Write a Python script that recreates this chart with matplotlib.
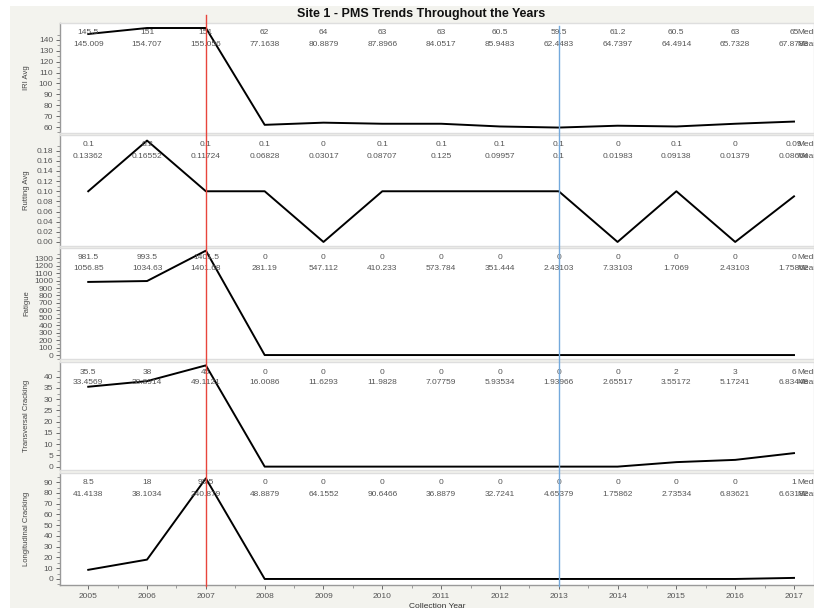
import matplotlib
matplotlib.use('Agg')
import numpy as np
import matplotlib.pyplot as plt
import matplotlib.transforms as mtransforms
from matplotlib.lines import Line2D
from matplotlib.patches import Rectangle
from matplotlib.ticker import FixedLocator, MultipleLocator, FormatStrFormatter

plt.rcParams['font.family'] = ['Liberation Sans', 'DejaVu Sans']

# ---- data (median drives the line, mean is only printed) ----
years = list(range(2005, 2018))

iri_median = [145.5, 151, 151, 62, 64, 63, 63, 60.5, 59.5, 61.2, 60.5, 63, 65]
iri_mean = [145.009, 154.707, 155.056, 77.1638, 80.8879, 87.8966, 84.0517,
            85.9483, 62.4483, 64.7397, 64.4914, 65.7328, 67.8783]

rut_median = [0.1, 0.2, 0.1, 0.1, 0, 0.1, 0.1, 0.1, 0.1, 0, 0.1, 0, 0.09]
rut_mean = [0.13362, 0.16552, 0.11724, 0.06828, 0.03017, 0.08707, 0.125,
            0.09957, 0.1, 0.01983, 0.09138, 0.01379, 0.08664]

fat_median = [981.5, 993.5, 1401.5, 0, 0, 0, 0, 0, 0, 0, 0, 0, 0]
fat_mean = [1056.85, 1034.63, 1401.68, 281.19, 547.112, 410.233, 573.784,
            351.444, 2.43103, 7.33103, 1.7069, 2.43103, 1.75862]

trans_median = [35.5, 38, 45, 0, 0, 0, 0, 0, 0, 0, 2, 3, 6]
trans_mean = [33.4569, 38.8914, 49.1121, 16.0086, 11.6293, 11.9828, 7.07759,
              5.93534, 1.93966, 2.65517, 3.55172, 5.17241, 6.83448]

long_median = [8.5, 18, 93.5, 0, 0, 0, 0, 0, 0, 0, 0, 0, 1]
long_mean = [41.4138, 38.1034, 240.879, 48.8879, 64.1552, 90.6466, 36.8879,
             32.7241, 4.65379, 1.75862, 2.73534, 6.83621, 6.63182]

red_year = 2007
blue_year = 2013

# label, median, mean, ylim, tick start/stop/step, tick format, top px, bottom px
panels = [
    ('IRI Avg', iri_median, iri_mean, (54.5, 155.6), (60, 140, 10), '%d', 23, 133),
    ('Rutting Avg', rut_median, rut_mean, (-0.008, 0.211), (0, 0.18, 0.02), '%.2f', 135, 246),
    ('Fatigue', fat_median, fat_mean, (-53, 1437), (0, 1300, 100), '%d', 248, 359),
    ('Transversal Cracking', trans_median, trans_mean, (-1.5, 46.5), (0, 40, 5), '%d', 362, 470),
    ('Longitudinal Cracking', long_median, long_mean, (-5.6, 98.5), (0, 90, 10), '%d', 473, 585),
]

W, H = 814, 613
fig = plt.figure(figsize=(W / 100, H / 100), dpi=100)
fig.patch.set_facecolor('white')
fig.add_artist(Rectangle((10 / W, 1 - 608 / H), (W - 10) / W, 602 / H,
                         transform=fig.transFigure, facecolor='#f3f3ee',
                         edgecolor='none', zorder=-10))

fig.text(421 / W, 1 - 14 / H, 'Site 1 - PMS Trends Throughout the Years',
         ha='center', va='center', fontsize=9, fontweight='bold', color='#111')

axes = []
for i, (label, med, mean, ylim, tk, fmt, yt, yb) in enumerate(panels):
    ax = fig.add_axes([60 / W, 1 - yb / H, (W - 60) / W, (yb - yt) / H])
    ax.set_facecolor('white')
    ax.plot(years, med, color='black', lw=1.4)
    ax.set_xlim(2004.52, 2017.34)
    ax.set_ylim(*ylim)

    lo, hi, step = tk
    n = int(round((hi - lo) / step))
    major = [lo + k * step for k in range(n + 1)]
    minor = [lo + (k + 0.5) * step for k in range(-1, n + 1)]
    ax.yaxis.set_major_locator(FixedLocator(major))
    ax.yaxis.set_minor_locator(FixedLocator(minor))
    ax.yaxis.set_major_formatter(FormatStrFormatter(fmt))
    ax.tick_params(axis='y', which='major', labelsize=6, colors='#555',
                   length=3, width=0.6, pad=2)
    ax.tick_params(axis='y', which='minor', colors='#777', length=2, width=0.5)

    for s in ax.spines.values():
        s.set_color('#dedede')
        s.set_linewidth(1.0)
    ax.spines['left'].set_color('#999')

    for x, m, a in zip(years, med, mean):
        ax.annotate('%g' % m, xy=(x, 1), xycoords=('data', 'axes fraction'),
                    xytext=(0, -10), textcoords='offset pixels',
                    ha='center', va='center', fontsize=6, color='#555')
        ax.annotate('%g' % a, xy=(x, 1), xycoords=('data', 'axes fraction'),
                    xytext=(0, -21), textcoords='offset pixels',
                    ha='center', va='center', fontsize=6, color='#555')
    ax.annotate('Median', xy=(years[-1] + 0.05, 1), xycoords=('data', 'axes fraction'),
                xytext=(0, -10), textcoords='offset pixels',
                ha='left', va='center', fontsize=6, color='#555', annotation_clip=False)
    ax.annotate('Mean', xy=(years[-1] + 0.05, 1), xycoords=('data', 'axes fraction'),
                xytext=(0, -21), textcoords='offset pixels',
                ha='left', va='center', fontsize=6, color='#555', annotation_clip=False)

    fig.text(27 / W, 1 - (yt + yb) / 2 / H, label, rotation=90,
             ha='center', va='center', fontsize=5.5, color='#444')

    ax.set_xticks(years)
    if i < len(panels) - 1:
        ax.tick_params(axis='x', bottom=False, labelbottom=False)
    else:
        ax.xaxis.set_minor_locator(MultipleLocator(0.5))
        ax.spines['bottom'].set_color('#999')
        ax.tick_params(axis='x', which='major', labelsize=6, colors='#555',
                       length=3, width=0.6, pad=3)
        ax.tick_params(axis='x', which='minor', colors='#777', length=2, width=0.5)
        ax.set_xlabel('Collection Year', fontsize=6, color='#333', labelpad=2)
    axes.append(ax)

trans = mtransforms.blended_transform_factory(axes[-1].transData, fig.transFigure)
fig.add_artist(Line2D([red_year, red_year], [1 - 15 / H, 1 - 586 / H],
                      transform=trans, color='#e8453c', lw=1.0, zorder=5))
fig.add_artist(Line2D([blue_year, blue_year], [1 - 26 / H, 1 - 586 / H],
                      transform=trans, color='#74a9dc', lw=1.0, zorder=5))

fig.savefig('out.png', dpi=100)
